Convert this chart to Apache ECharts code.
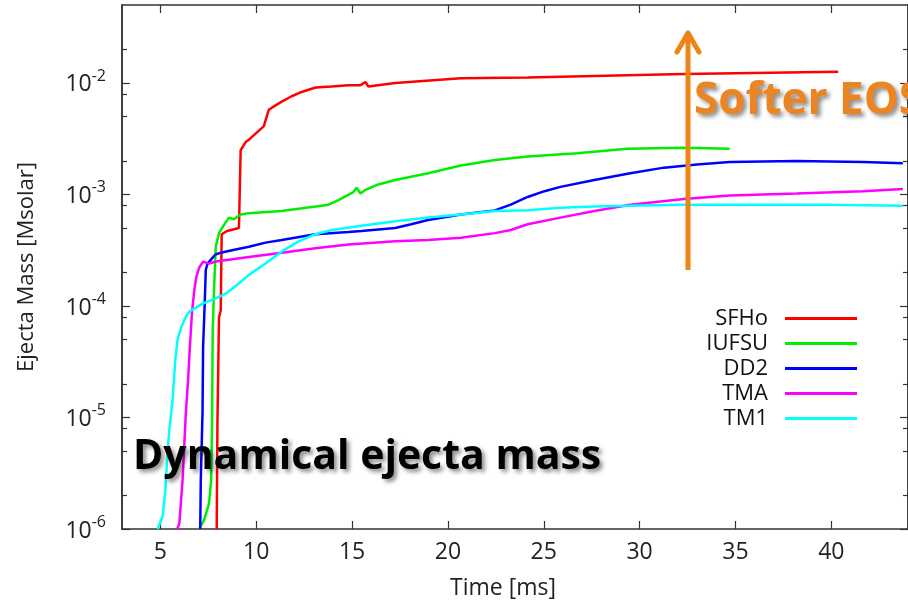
<!DOCTYPE html>
<html><head><meta charset="utf-8">
<script src="https://cdn.jsdelivr.net/npm/echarts@6/dist/echarts.min.js"></script>
<style>html,body{margin:0;padding:0;background:#fff}#c{width:908px;height:606px}</style>
</head><body><div id="c"></div>
<script>
// ---------- data ----------
const seriesNames = ['SFHo', 'IUFSU', 'DD2', 'TMA', 'TM1'];
const seriesColors = ['#ff0000', '#00ee00', '#0000ff', '#ff00ff', '#00ffff'];

const sfhoTime = [7.94, 7.98, 8.06, 8.15, 8.20, 8.48, 9.10, 9.19, 9.45, 9.62, 10.04, 10.40, 10.50, 10.66, 10.82, 11.33, 11.85, 12.37, 13.10, 13.93, 14.81, 15.44, 15.70, 15.85, 17.25, 20.68, 24.16, 29.35, 32.31, 40.36];
const sfhoMass = [1.0e-6, 9.5e-6, 7.9e-5, 9.1e-5, 4.4e-4, 4.7e-4, 5.0e-4, 2.5e-3, 2.95e-3, 3.1e-3, 3.6e-3, 4.1e-3, 4.7e-3, 5.75e-3, 6.0e-3, 6.8e-3, 7.6e-3, 8.3e-3, 9.1e-3, 9.3e-3, 9.55e-3, 9.55e-3, 1.02e-2, 9.3e-3, 1.0e-2, 1.1e-2, 1.12e-2, 1.17e-2, 1.2e-2, 1.26e-2];

const iufsuTime = [7.02, 7.28, 7.54, 7.65, 7.70, 7.73, 7.80, 7.89, 8.06, 8.37, 8.58, 8.84, 9.19, 9.62, 11.33, 13.10, 13.77, 14.29, 15.07, 15.23, 15.44, 15.70, 16.37, 17.25, 18.97, 20.68, 22.45, 24.16, 26.75, 29.35, 32.31, 34.70];
const iufsuMass = [1.0e-6, 1.2e-6, 1.7e-6, 2.75e-6, 9.5e-6, 6.0e-5, 1.38e-4, 3.4e-4, 4.5e-4, 5.5e-4, 6.2e-4, 6.0e-4, 6.6e-4, 6.8e-4, 7.1e-4, 7.8e-4, 8.1e-4, 8.9e-4, 1.05e-3, 1.15e-3, 1.02e-3, 1.1e-3, 1.23e-3, 1.35e-3, 1.55e-3, 1.82e-3, 2.04e-3, 2.19e-3, 2.34e-3, 2.57e-3, 2.63e-3, 2.57e-3];

const dd2Time = [7.08, 7.11, 7.20, 7.23, 7.32, 7.37, 7.46, 7.72, 7.89, 8.15, 8.74, 9.62, 10.49, 11.33, 13.08, 14.81, 15.49, 17.25, 18.08, 18.97, 20.68, 22.45, 23.28, 24.16, 25.04, 25.87, 27.64, 29.51, 31.27, 32.99, 34.70, 38.18, 41.66, 43.73];
const dd2Mass = [1.0e-6, 2.75e-6, 1.1e-5, 4.3e-5, 1.12e-4, 2.1e-4, 2.4e-4, 2.7e-4, 2.9e-4, 3.0e-4, 3.16e-4, 3.4e-4, 3.7e-4, 3.9e-4, 4.4e-4, 4.6e-4, 4.7e-4, 5.0e-4, 5.4e-4, 5.9e-4, 6.6e-4, 7.2e-4, 8.1e-4, 9.5e-4, 1.07e-3, 1.17e-3, 1.35e-3, 1.55e-3, 1.74e-3, 1.86e-3, 1.95e-3, 2.0e-3, 1.95e-3, 1.9e-3];

const tmaTime = [5.88, 5.99, 6.16, 6.33, 6.45, 6.54, 6.65, 6.77, 6.87, 7.02, 7.23, 7.54, 7.89, 9.62, 11.33, 13.08, 14.81, 17.25, 18.97, 20.68, 22.45, 23.28, 24.16, 25.87, 27.64, 29.51, 32.31, 34.70, 38.18, 41.66, 43.73];
const tmaMass = [1.0e-6, 1.12e-6, 2.75e-6, 1.1e-5, 2.2e-5, 4.3e-5, 8.7e-5, 1.38e-4, 1.8e-4, 2.2e-4, 2.5e-4, 2.4e-4, 2.5e-4, 2.75e-4, 3.0e-4, 3.3e-4, 3.55e-4, 3.8e-4, 3.9e-4, 4.1e-4, 4.5e-4, 4.8e-4, 5.4e-4, 6.2e-4, 7.1e-4, 8.1e-4, 9.1e-4, 9.8e-4, 1.02e-3, 1.07e-3, 1.12e-3];

const tm1Time = [4.86, 5.12, 5.26, 5.38, 5.47, 5.64, 5.78, 5.90, 6.07, 6.30, 6.51, 7.20, 7.89, 8.41, 8.93, 9.62, 10.49, 11.35, 12.22, 13.08, 13.95, 15.49, 17.25, 18.97, 20.68, 22.45, 24.16, 25.87, 27.64, 29.35, 32.31, 36.46, 39.89, 43.73];
const tm1Mass = [1.0e-6, 1.3e-6, 2.2e-6, 5.1e-6, 7.8e-6, 1.45e-5, 3.3e-5, 5.0e-5, 6.3e-5, 7.8e-5, 8.9e-5, 1.05e-4, 1.17e-4, 1.29e-4, 1.51e-4, 1.9e-4, 2.4e-4, 3.1e-4, 3.8e-4, 4.4e-4, 4.8e-4, 5.25e-4, 5.75e-4, 6.2e-4, 6.6e-4, 7.1e-4, 7.2e-4, 7.6e-4, 7.8e-4, 7.9e-4, 8.1e-4, 8.1e-4, 8.1e-4, 7.9e-4];

const xTickValues = [5, 10, 15, 20, 25, 30, 35, 40];
const yMajorTicks = [1e-6, 1e-5, 1e-4, 1e-3, 1e-2];
const yTickExponents = ['-6', '-5', '-4', '-3', '-2'];
const yMinorTicks = [2e-6, 5e-6, 8e-6, 2e-5, 5e-5, 8e-5, 2e-4, 5e-4, 8e-4, 2e-3, 5e-3, 8e-3, 2e-2];

const xLabel = 'Time [ms]';
const yLabel = 'Ejecta Mass [Msolar]';
const annotationLeft = 'Dynamical ejecta mass';
const annotationRight = 'Softer EOS';

// ---------- chart ----------
const FONT = '"Open Sans", "Liberation Sans", sans-serif';
const AX = '#333';
function zip(t, m) { return t.map((v, i) => [v, m[i]]); }
const allData = [zip(sfhoTime, sfhoMass), zip(iufsuTime, iufsuMass), zip(dd2Time, dd2Mass), zip(tmaTime, tmaMass), zip(tm1Time, tm1Mass)];

const chart = echarts.init(document.getElementById('c'), null, {renderer: 'canvas'});

const yBase = {type: 'log', logBase: 10, min: 1e-6, max: 0.05, splitLine: {show: false}, minorTick: {show: false}};
const xBase = {type: 'value', min: 3, max: 44, splitLine: {show: false}};
const lineAx = {show: true, lineStyle: {color: AX, width: 1.5}};

const option = {
  animation: false,
  backgroundColor: '#fff',
  grid: {left: 122, top: 5, right: -4, bottom: 77, containLabel: false},
  xAxis: [
    Object.assign({}, xBase, {
      position: 'bottom',
      axisLine: lineAx,
      axisTick: {show: true, inside: true, length: 8, customValues: xTickValues, lineStyle: {color: AX, width: 1.2}},
      axisLabel: {customValues: xTickValues, fontSize: 23, color: '#222', fontFamily: FONT, margin: 12},
      name: xLabel, nameLocation: 'middle', nameGap: 48,
      nameTextStyle: {fontSize: 23, color: '#222', fontFamily: FONT, padding: [0, 24, 0, 0]}
    }),
    Object.assign({}, xBase, {
      position: 'top',
      axisLine: lineAx,
      axisTick: {show: true, inside: true, length: 8, customValues: xTickValues, lineStyle: {color: AX, width: 1.2}},
      axisLabel: {show: false}
    })
  ],
  yAxis: [
    Object.assign({}, yBase, {
      position: 'left',
      axisLine: lineAx,
      axisTick: {show: true, inside: true, length: 8, customValues: yMajorTicks, lineStyle: {color: AX, width: 1.2}},
      axisLabel: {
        customValues: yMajorTicks, margin: 16, fontFamily: FONT, color: '#222',
        formatter: function (v) {
          let idx = 0, best = Infinity;
          yMajorTicks.forEach((t, i) => { const d = Math.abs(Math.log10(t) - Math.log10(v)); if (d < best) { best = d; idx = i; } });
          return '{b|10}{s|' + yTickExponents[idx] + '}';
        },
        rich: {
          b: {fontSize: 23, fontFamily: FONT, color: '#222', padding: [4, 0, 0, 0]},
          s: {fontSize: 16, fontFamily: FONT, color: '#222', padding: [0, 0, 14, 0]}
        }
      },
      name: yLabel, nameLocation: 'middle', nameGap: 84,
      nameTextStyle: {fontSize: 22, color: '#222', fontFamily: FONT}
    }),
    Object.assign({}, yBase, {
      position: 'left',
      axisLine: lineAx,
      axisTick: {show: true, inside: true, length: 5, customValues: yMinorTicks, lineStyle: {color: AX, width: 1.2}},
      axisLabel: {show: false}
    }),
    Object.assign({}, yBase, {
      position: 'right',
      axisLine: lineAx,
      axisTick: {show: true, inside: true, length: 8, customValues: yMajorTicks, lineStyle: {color: AX, width: 1.2}},
      axisLabel: {show: false}
    }),
    Object.assign({}, yBase, {
      position: 'right',
      axisLine: lineAx,
      axisTick: {show: true, inside: true, length: 5, customValues: yMinorTicks, lineStyle: {color: AX, width: 1.2}},
      axisLabel: {show: false}
    })
  ],
  legend: {
    orient: 'vertical', right: 51, top: 306, align: 'right',
    itemWidth: 72, itemHeight: 3, itemGap: 0, padding: 0, icon: 'rect',
    selectedMode: false,
    data: seriesNames,
    textStyle: {fontSize: 22, lineHeight: 25, color: '#111', fontFamily: FONT, padding: [0, 12, 0, 0]}
  },
  series: seriesNames.map((n, i) => ({
    name: n, type: 'line', xAxisIndex: 0, yAxisIndex: 0,
    data: allData[i], showSymbol: false, symbol: 'none', clip: true,
    itemStyle: {color: seriesColors[i]},
    lineStyle: {color: seriesColors[i], width: 2.5},
    z: 3
  })),
  graphic: [
    {type: 'polyline', z: 20, shape: {points: [[688, 270], [688, 33]]},
     style: {stroke: '#ee8317', lineWidth: 5, fill: null}},
    {type: 'polyline', z: 20, shape: {points: [[677, 52], [688, 33], [699, 52]]},
     style: {stroke: '#ee8317', lineWidth: 5, fill: null, lineCap: 'round', lineJoin: 'round'}},
    {type: 'text', z: 20, x: 694, y: 101,
     style: {text: annotationRight, fill: '#ec8521', font: 'bold 44px ' + FONT, verticalAlign: 'middle', align: 'left',
       textShadowColor: 'rgba(0,0,0,0.45)', textShadowBlur: 4, textShadowOffsetX: 3, textShadowOffsetY: 3}},
    {type: 'text', z: 20, x: 133, y: 457,
     style: {text: annotationLeft, fill: '#000', font: 'bold 41px ' + FONT, verticalAlign: 'middle', align: 'left',
       textShadowColor: 'rgba(0,0,0,0.45)', textShadowBlur: 4, textShadowOffsetX: 3, textShadowOffsetY: 3}}
  ]
};
chart.setOption(option);
</script>
</body></html>
